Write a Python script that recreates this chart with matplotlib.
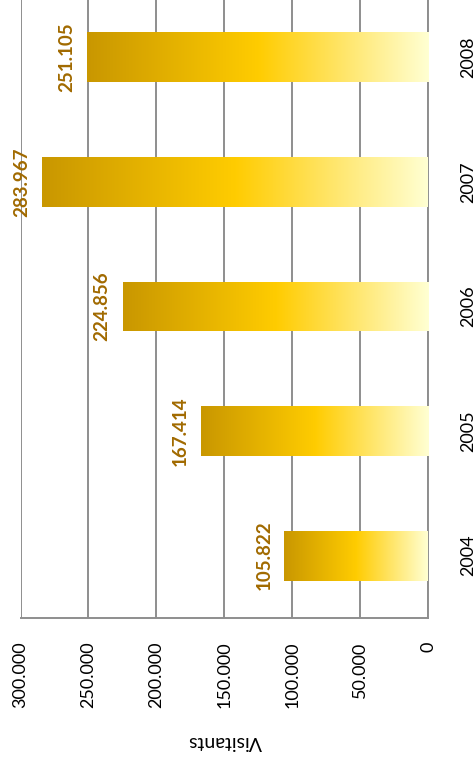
import numpy as np
import matplotlib
matplotlib.use("Agg")
import matplotlib.pyplot as plt
from matplotlib.colors import LinearSegmentedColormap

plt.rcParams['font.family'] = ['Lato', 'DejaVu Sans']

# Visitors per year
years = ["2004", "2005", "2006", "2007", "2008"]
visitants = [105822, 167414, 224856, 283967, 251105]
value_ticks = [0, 50000, 100000, 150000, 200000, 250000, 300000]
axis_title = "Visitants"


def fmt(v):
    return f"{v:,}".replace(",", ".")


fig = plt.figure(figsize=(4.75, 7.67), dpi=100)
ax = fig.add_axes([0.0432, 0.1943, 0.8579, 0.8122])

grid_col = "#8e8e8e"
label_col = "#a16a00"
gold = LinearSegmentedColormap.from_list(
    "gold", [(0.0, "#c99700"), (0.5, "#ffcc00"), (1.0, "#ffffd2")])
grad = np.linspace(0, 1, 256).reshape(1, -1)

pos = np.arange(len(years))
bars = ax.barh(pos, visitants, height=0.4, color="none", edgecolor="none", zorder=3)
for b in bars:
    x0, y0 = b.get_x(), b.get_y()
    w, h = b.get_width(), b.get_height()
    im = ax.imshow(grad, cmap=gold, aspect="auto",
                   extent=(x0 + w, x0, y0, y0 + h), zorder=3, interpolation="bilinear")
    im.set_clip_path(b)

for i, v in zip(pos, visitants):
    ax.annotate(fmt(v), xy=(v, i), xytext=(-12, 0), textcoords="offset pixels",
                rotation=90, ha="right", va="center", fontsize=13.5,
                fontweight="bold", color=label_col, zorder=4)

ax.set_xlim(300000, 0)
ax.set_ylim(-0.5, 4.5)

ax.set_xticks(value_ticks)
ax.set_xticklabels([fmt(t) for t in value_ticks], rotation=90, fontsize=13)
ax.tick_params(axis="x", length=0, pad=17)

ax.yaxis.tick_right()
ax.set_yticks(pos)
ax.set_yticklabels(years, rotation=90, fontsize=13, va="center")
ax.tick_params(axis="y", length=0, pad=23)

ax.grid(axis="x", color=grid_col, linewidth=1.4, zorder=1)
ax.set_axisbelow(True)
for side in ("top", "left"):
    ax.spines[side].set_visible(False)
for side in ("bottom", "right"):
    ax.spines[side].set_color(grid_col)
    ax.spines[side].set_linewidth(1.4)

fig.text(225 / 475, 1 - 742 / 767, axis_title, rotation=180,
         ha="center", va="center", fontsize=14)

fig.savefig("out.png", dpi=100)
